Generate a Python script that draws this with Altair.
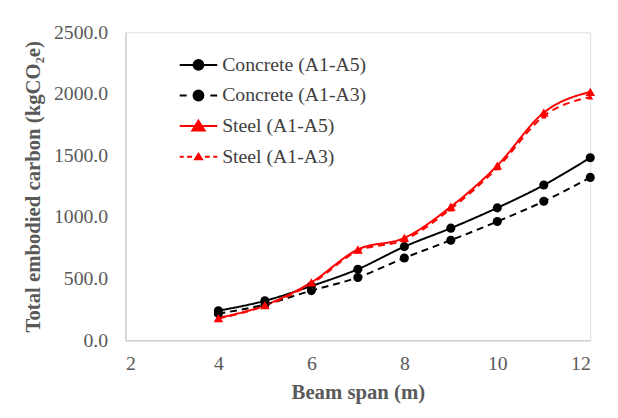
import altair as alt
import pandas as pd

spans = [4, 5, 6, 7, 8, 9, 10, 11, 12]
concrete_a1a5 = [240, 320, 440, 577, 760, 910, 1075, 1260, 1482]
concrete_a1a3 = [216, 290, 403, 510, 668, 812, 964, 1128, 1322]
steel_a1a5 = [180, 285, 470, 737, 831, 1084, 1418, 1848, 2017]
steel_a1a3 = [176, 280, 460, 725, 815, 1066, 1400, 1820, 1975]

series = ["Concrete (A1-A5)", "Concrete (A1-A3)", "Steel (A1-A5)", "Steel (A1-A3)"]
values = [concrete_a1a5, concrete_a1a3, steel_a1a5, steel_a1a3]
colors = ["#000000", "#000000", "#FF0000", "#FF0000"]

rows = []
for s, vals in zip(series, values):
    for x, v in zip(spans, vals):
        rows.append({"series": s, "span": x, "carbon": v})
df = pd.DataFrame(rows)

FONT = "Liberation Serif"
GRAY = "#595959"

x_enc = alt.X("span:Q", scale=alt.Scale(domain=[2, 12], nice=False),
              axis=alt.Axis(title="Beam span (m)", values=[2, 4, 6, 8, 10, 12], grid=False,
                            ticks=False, domainColor="#D0D0D0", domainWidth=1.5,
                            labelFont=FONT, labelFontSize=20, labelColor=GRAY, labelPadding=14,
                            titleFont=FONT, titleFontSize=21, titleFontWeight="bold",
                            titleColor=GRAY, titlePadding=8))
y_enc = alt.Y("carbon:Q", scale=alt.Scale(domain=[0, 2500], nice=False),
              axis=alt.Axis(title="Total embodied carbon (kgCO₂e)", values=[0, 500, 1000, 1500, 2000, 2500],
                            format=".1f", grid=False, ticks=False, domainColor="#D0D0D0", domainWidth=1.5,
                            labelFont=FONT, labelFontSize=20, labelColor=GRAY, labelPadding=18,
                            titleFont=FONT, titleFontSize=21, titleFontWeight="bold",
                            titleColor=GRAY, titlePadding=10))

color_scale = alt.Scale(domain=series, range=colors)

k = 0.5523
circ = (f"M1,0C1,{k},{k},1,0,1C-{k},1,-1,{k},-1,0"
        f"C-1,-{k},-{k},-1,0,-1C{k},-1,1,-{k},1,0Z")
legend_paths = [
    "M-3.8,0L3.8,0" + circ,
    "M-3.8,0L-2.4,0M2.4,0L3.8,0" + circ,
    "M-3.8,0L3.8,0M0,-1.1L1.25,0.9L-1.25,0.9Z",
    "M-3.8,0L-3.0,0M-2.3,0L-1.3,0M1.3,0L2.3,0M3.0,0L3.8,0M0,-0.6L0.7,0.5L-0.7,0.5Z",
]

leg = alt.Legend(title=None, orient="none", legendX=64, legendY=23, padding=0,
                 labelFont=FONT, labelFontSize=20, labelColor="#404040", labelOffset=14,
                 symbolSize=100, symbolStrokeWidth=2, symbolOpacity=1, rowPadding=11, labelLimit=300)

legend_layer = alt.Chart(df).transform_filter("datum.span < 0").mark_point(filled=True, opacity=1, strokeWidth=2).encode(
    x=x_enc, y=y_enc,
    color=alt.Color("series:N", scale=color_scale, legend=leg),
    stroke=alt.Stroke("series:N", scale=alt.Scale(domain=series, range=colors), legend=leg),
    shape=alt.Shape("series:N", scale=alt.Scale(domain=series, range=legend_paths), legend=leg),
)

def line_layer(names, dash):
    return alt.Chart(df).transform_filter(
        alt.FieldOneOfPredicate(field="series", oneOf=names)
    ).mark_line(strokeWidth=2, interpolate="monotone", strokeDash=dash).encode(
        x="span:Q", y="carbon:Q",
        color=alt.Color("series:N", scale=color_scale),
    )

def pts(names, shape, size):
    return alt.Chart(df).transform_filter(
        alt.FieldOneOfPredicate(field="series", oneOf=names)
    ).mark_point(filled=True, opacity=1, shape=shape, size=size).encode(
        x="span:Q", y="carbon:Q",
        color=alt.Color("series:N", scale=color_scale),
    )

solid = line_layer([series[0], series[2]], [1, 0])
dashed = line_layer([series[1], series[3]], [7, 5])
circles = pts(series[:2], "circle", 85)
tri_big = pts([series[2]], "triangle-up", 95)
tri_small = pts([series[3]], "triangle-up", 35)

chart = alt.layer(legend_layer, solid, dashed, circles, tri_big, tri_small).properties(
    width=471, height=312,
    autosize=alt.AutoSizeParams(type="none"),
    padding={"left": 119, "top": 22, "right": 20, "bottom": 66},
).configure_view(stroke=None).configure(background="white").configure_legend(
    labelFont=FONT, labelFontSize=20, labelColor="#404040", labelOffset=14,
    symbolStrokeWidth=2, rowPadding=11, labelLimit=300,
)

chart.save("out.html", embed_options={"renderer": "svg", "actions": False})
